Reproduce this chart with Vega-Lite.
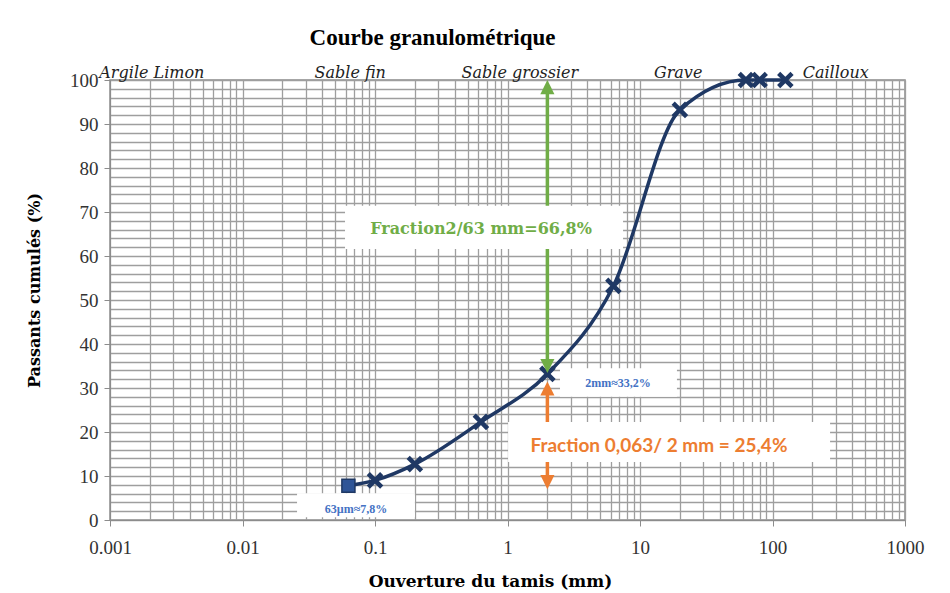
{
  "$schema": "https://vega.github.io/schema/vega-lite/v6.json",
  "width": 795,
  "height": 440,
  "autosize": "none",
  "padding": {"left": 110, "top": 80, "right": 45, "bottom": 73},
  "background": "white",
  "title": {"text": "Courbe granulométrique", "font": "Liberation Serif", "fontSize": 23, "fontWeight": "bold", "color": "#000000", "anchor": "middle", "dx": -75, "offset": 14},
  "config": {
    "view": {"stroke": "#8c8c8c", "strokeWidth": 1.5},
    "axis": {"labelFont": "Liberation Serif", "labelFontSize": 19, "labelColor": "#333333", "domainColor": "#8c8c8c", "tickColor": "#8c8c8c", "gridColor": "#9e9e9e", "gridWidth": 1.3, "titleFont": "DejaVu Serif", "titleFontWeight": "bold", "titleColor": "#000000"}
  },
  "datasets": {
    "pts": [
      {"d": 0.063, "p": 7.8, "marker": "square"},
      {"d": 0.1, "p": 9.0, "marker": "x"},
      {"d": 0.2, "p": 12.7, "marker": "x"},
      {"d": 0.63, "p": 22.3, "marker": "x"},
      {"d": 2, "p": 33.2, "marker": "x"},
      {"d": 6.3, "p": 53.2, "marker": "x"},
      {"d": 20, "p": 93.2, "marker": "x"},
      {"d": 63, "p": 100, "marker": "x"},
      {"d": 80, "p": 100, "marker": "x"},
      {"d": 125, "p": 100, "marker": "x"}
    ],
    "arrows": [
      {"d": 2, "from": 34.5, "to": 97, "fraction": "2/63"},
      {"d": 2, "from": 9, "to": 29.5, "fraction": "0,063/2"}
    ],
    "heads": [
      {"d": 2, "p": 100, "fraction": "2/63", "dir": "up"},
      {"d": 2, "p": 33.4, "fraction": "2/63", "dir": "down"},
      {"d": 2, "p": 31.5, "fraction": "0,063/2", "dir": "up"},
      {"d": 2, "p": 7, "fraction": "0,063/2", "dir": "down"}
    ],
    "boxes": [
      {"x1": 0.0594, "x2": 7.45, "y1": 61.6, "y2": 71.4},
      {"x1": 1.01, "x2": 272, "y1": 13.2, "y2": 22.3},
      {"x1": 2.49, "x2": 19.0, "y1": 28.0, "y2": 34.5},
      {"x1": 0.0258, "x2": 0.2, "y1": 0.6, "y2": 6.1}
    ],
    "zones": [
      {"d": 0.00207, "label": "Argile Limon"},
      {"d": 0.065, "label": "Sable fin"},
      {"d": 1.24, "label": "Sable grossier"},
      {"d": 19.4, "label": "Grave"},
      {"d": 300, "label": "Cailloux"}
    ]
  },
  "layer": [
    {
      "data": {"name": "pts"},
      "mark": {"type": "line", "interpolate": "monotone", "color": "#1F3864", "strokeWidth": 3.5},
      "encoding": {
        "x": {
          "field": "d", "type": "quantitative",
          "scale": {"type": "log", "domain": [0.001, 1000], "nice": false},
          "axis": {
            "values": [0.001,0.002,0.003,0.004,0.005,0.006,0.007,0.008,0.009,0.01,0.02,0.03,0.04,0.05,0.06,0.07,0.08,0.09,0.1,0.2,0.3,0.4,0.5,0.6,0.7,0.8,0.9,1,2,3,4,5,6,7,8,9,10,20,30,40,50,60,70,80,90,100,200,300,400,500,600,700,800,900,1000],
            "tickCount": 200,
            "format": "~g",
            "labelExpr": "abs(log(datum.value)/LN10 - round(log(datum.value)/LN10)) < 0.001 ? datum.label : ''",
            "labelOverlap": false,
            "labelFlush": false,
            "labelPadding": 12,
            "tickSize": 6,
            "tickOpacity": {"condition": {"test": "abs(log(datum.value)/LN10 - round(log(datum.value)/LN10)) < 0.001", "value": 1}, "value": 0},
            "grid": true,
            "title": "Ouverture du tamis (mm)",
            "titleFontSize": 17,
            "titleX": 380,
            "titleY": 66,
            "titleBaseline": "alphabetic"
          }
        },
        "y": {
          "field": "p", "type": "quantitative",
          "scale": {"domain": [0, 100], "nice": false},
          "axis": {
            "values": [0,2,4,6,8,10,12,14,16,18,20,22,24,26,28,30,32,34,36,38,40,42,44,46,48,50,52,54,56,58,60,62,64,66,68,70,72,74,76,78,80,82,84,86,88,90,92,94,96,98,100],
            "tickCount": 200,
            "format": "d",
            "labelExpr": "datum.value % 10 == 0 ? datum.label : ''",
            "labelOverlap": false,
            "labelPadding": 6,
            "tickSize": 6,
            "tickOpacity": {"condition": {"test": "datum.value % 10 == 0", "value": 1}, "value": 0},
            "grid": true,
            "title": "Passants cumulés (%)",
            "titleFontSize": 16,
            "titleX": -68,
            "titleY": 210,
            "titleBaseline": "bottom"
          }
        }
      }
    },
    {
      "data": {"name": "pts"},
      "transform": [{"filter": "datum.marker == 'x'"}],
      "mark": {"type": "point", "shape": "M-1,-1L1,1M-1,1L1,-1", "filled": false, "stroke": "#1F3864", "strokeWidth": 4.5, "size": 180, "opacity": 1},
      "encoding": {"x": {"field": "d", "type": "quantitative"}, "y": {"field": "p", "type": "quantitative"}}
    },
    {
      "data": {"name": "pts"},
      "transform": [{"filter": "datum.marker == 'square'"}],
      "mark": {"type": "point", "shape": "square", "filled": true, "color": "#2F5597", "stroke": "#1F3864", "strokeWidth": 1.5, "size": 170, "opacity": 1},
      "encoding": {"x": {"field": "d", "type": "quantitative"}, "y": {"field": "p", "type": "quantitative"}}
    },
    {
      "data": {"name": "arrows"},
      "mark": {"type": "rule", "strokeWidth": 3.5},
      "encoding": {
        "x": {"field": "d", "type": "quantitative"},
        "y": {"field": "from", "type": "quantitative"},
        "y2": {"field": "to"},
        "color": {"field": "fraction", "type": "nominal", "scale": {"domain": ["2/63", "0,063/2"], "range": ["#70AD47", "#ED7D31"]}, "legend": null}
      }
    },
    {
      "data": {"name": "heads"},
      "mark": {"type": "point", "filled": true, "size": 200, "opacity": 1},
      "encoding": {
        "x": {"field": "d", "type": "quantitative"},
        "y": {"field": "p", "type": "quantitative"},
        "shape": {"field": "dir", "type": "nominal", "scale": {"domain": ["up", "down"], "range": ["M0,0L-1,2L1,2Z", "M0,0L-1,-2L1,-2Z"]}, "legend": null},
        "color": {"field": "fraction", "type": "nominal", "scale": {"domain": ["2/63", "0,063/2"], "range": ["#70AD47", "#ED7D31"]}, "legend": null}
      }
    },
    {
      "data": {"name": "boxes"},
      "mark": {"type": "rect", "fill": "white", "stroke": null},
      "encoding": {
        "x": {"field": "x1", "type": "quantitative"},
        "x2": {"field": "x2"},
        "y": {"field": "y1", "type": "quantitative"},
        "y2": {"field": "y2"}
      }
    },
    {
      "data": {"values": [{"d": 0.631, "p": 66.1, "t": "Fraction2/63 mm=66,8%"}]},
      "mark": {"type": "text", "font": "DejaVu Serif", "fontWeight": "bold", "fontSize": 16, "color": "#70AD47", "align": "center", "baseline": "middle"},
      "encoding": {"x": {"field": "d", "type": "quantitative"}, "y": {"field": "p", "type": "quantitative"}, "text": {"field": "t"}}
    },
    {
      "data": {"values": [{"d": 13.9, "p": 16.8, "t": "Fraction 0,063/ 2 mm = 25,4%"}]},
      "mark": {"type": "text", "font": "Lato", "fontWeight": "bold", "fontSize": 19, "color": "#ED7D31", "align": "center", "baseline": "middle"},
      "encoding": {"x": {"field": "d", "type": "quantitative"}, "y": {"field": "p", "type": "quantitative"}, "text": {"field": "t"}}
    },
    {
      "data": {"values": [{"d": 6.82, "p": 31.1, "t": "2mm≈33,2%"}, {"d": 0.0719, "p": 2.5, "t": "63µm≈7,8%"}]},
      "mark": {"type": "text", "font": "Liberation Serif", "fontWeight": "bold", "fontSize": 12, "color": "#4472C4", "align": "center", "baseline": "middle"},
      "encoding": {"x": {"field": "d", "type": "quantitative"}, "y": {"field": "p", "type": "quantitative"}, "text": {"field": "t"}}
    },
    {
      "data": {"name": "zones"},
      "mark": {"type": "text", "font": "DejaVu Serif", "fontStyle": "italic", "fontSize": 16, "color": "#222222", "align": "center", "baseline": "alphabetic", "dy": -2},
      "encoding": {"x": {"field": "d", "type": "quantitative"}, "y": {"datum": 100}, "text": {"field": "label"}}
    }
  ]
}
